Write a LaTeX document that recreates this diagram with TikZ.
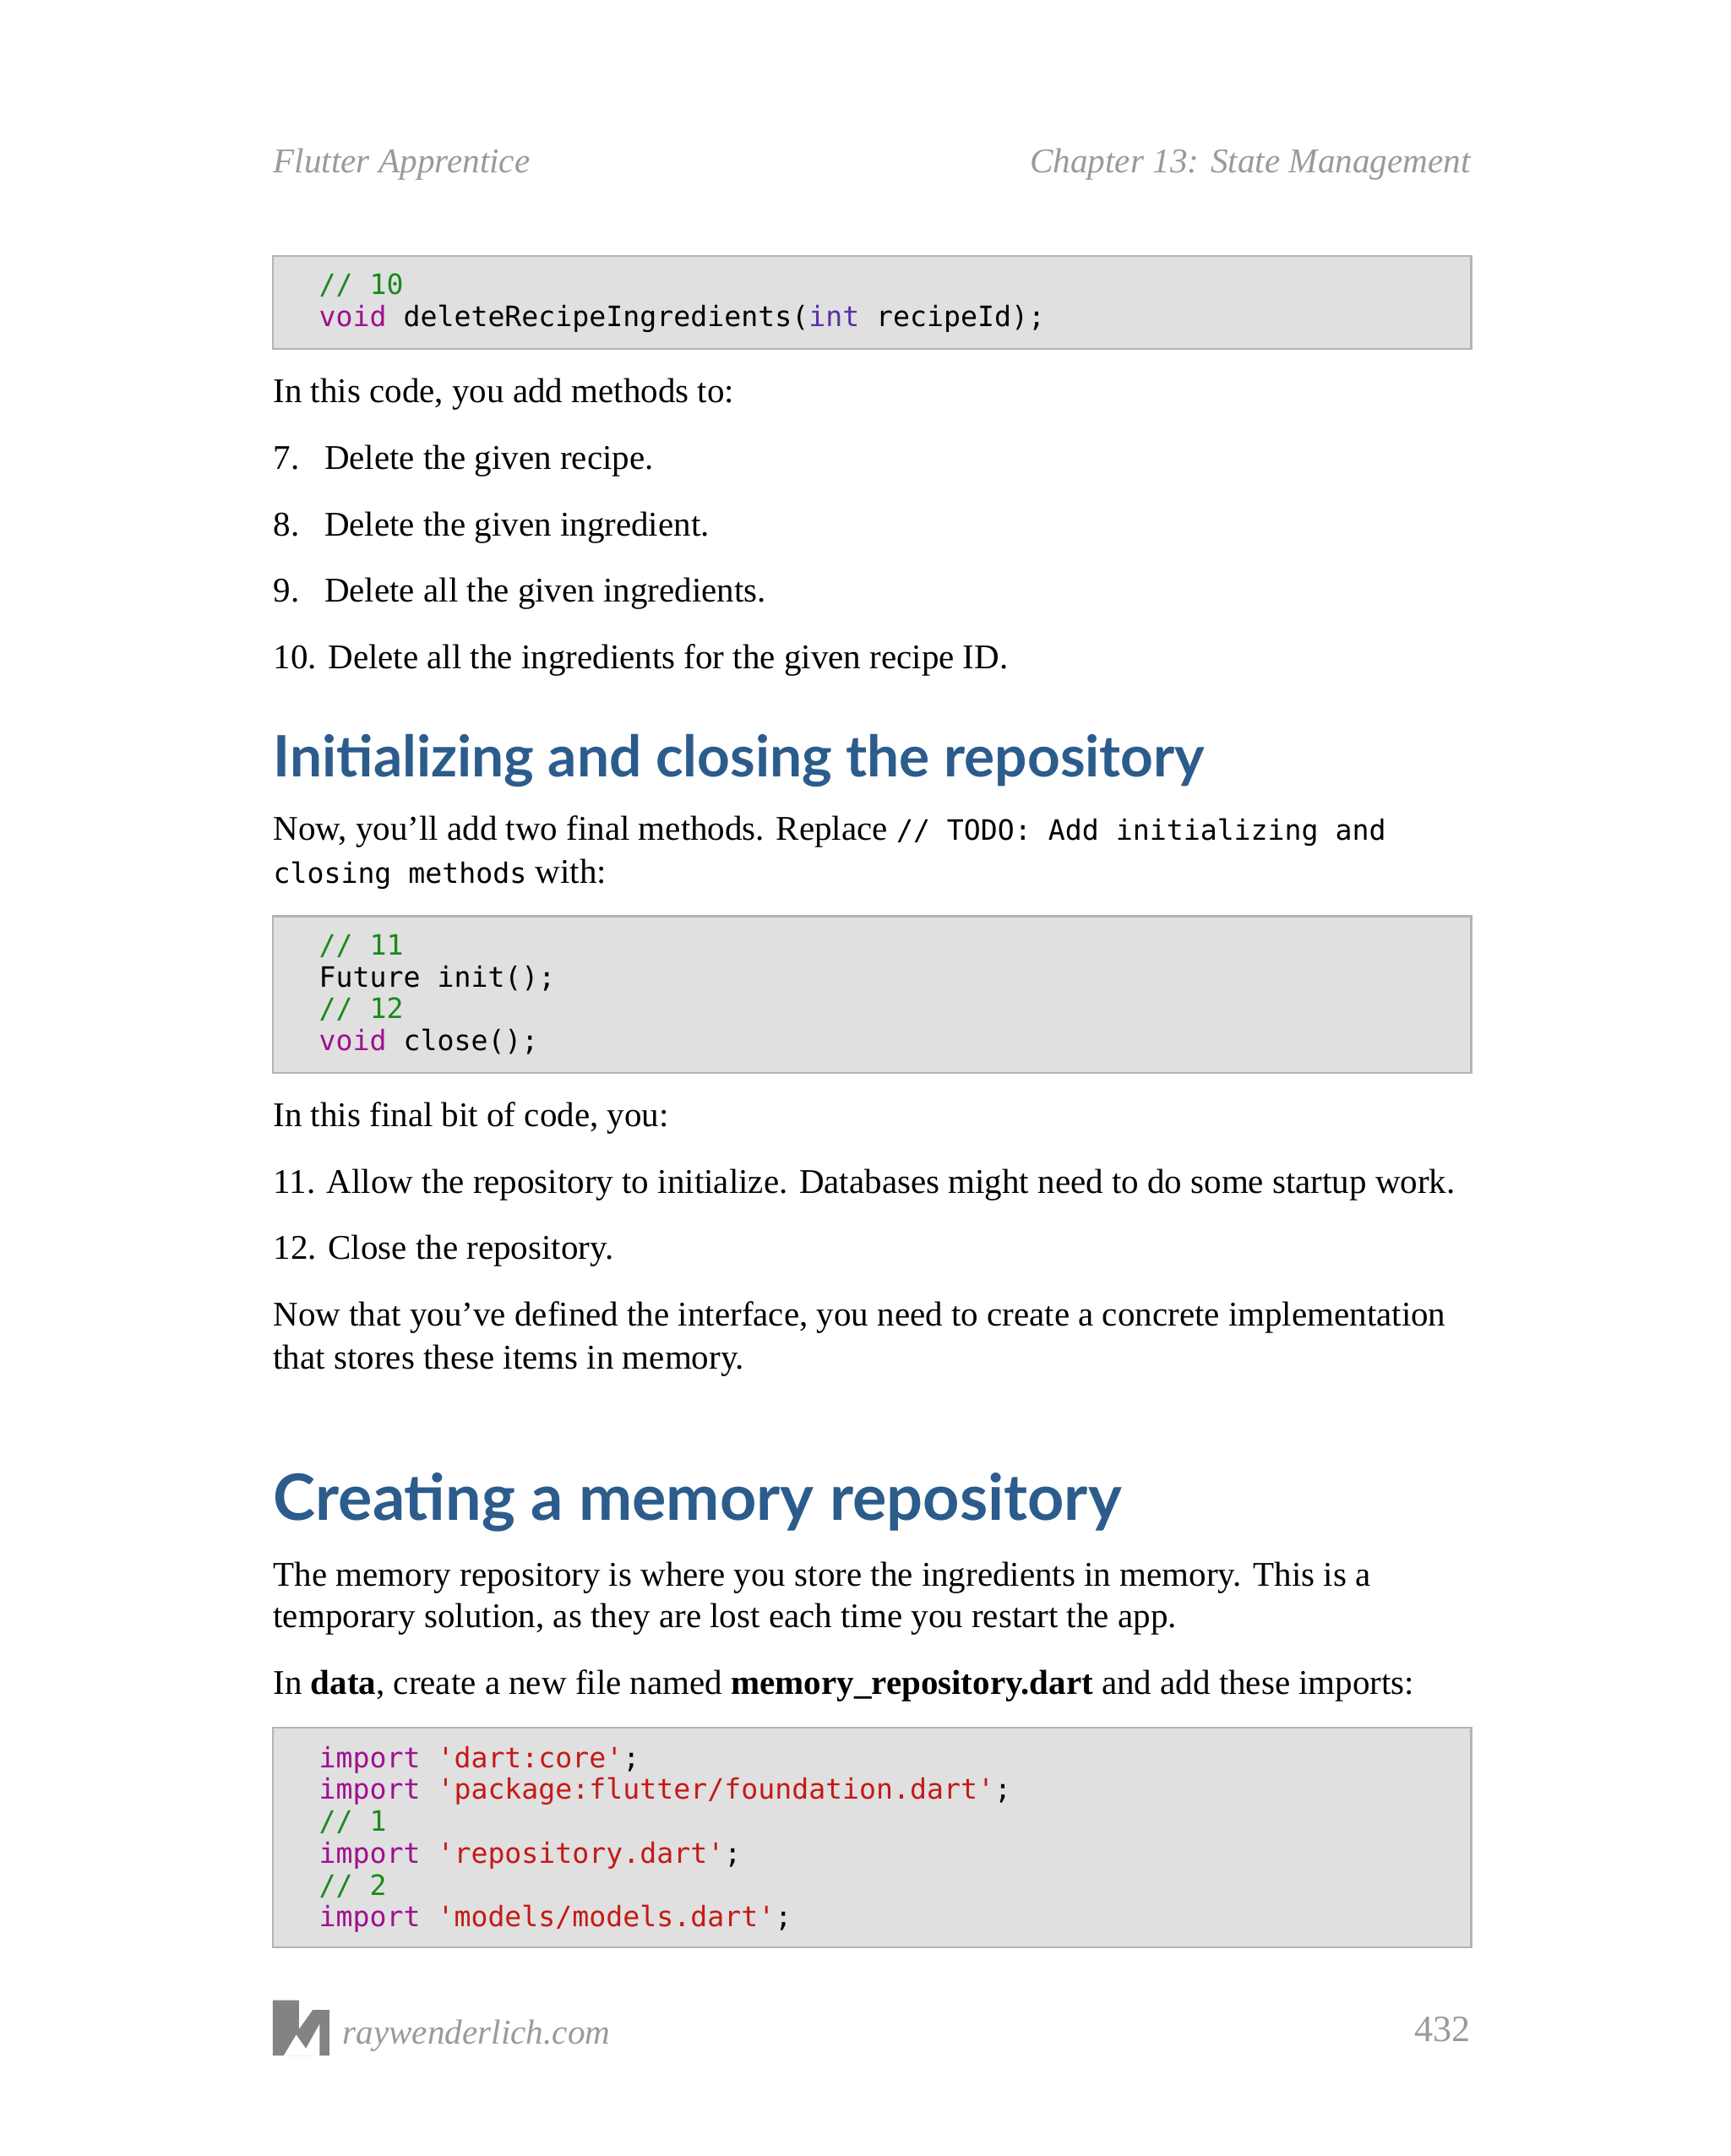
\documentclass[tikz,border=0pt]{standalone}
\usepackage{fontspec}
\setmainfont{Liberation Serif}
\newfontfamily\codefont{DejaVu Sans Mono}
\newfontfamily\headfont{Lato}
\definecolor{cbg}{HTML}{E0E0E0}
\definecolor{cbd}{HTML}{B4B4B4}
\definecolor{ccom}{HTML}{1A8A1A}
\definecolor{ckw}{HTML}{A0108F}
\definecolor{cint}{HTML}{5B2FA8}
\definecolor{cstr}{HTML}{C41A16}
\definecolor{chead}{HTML}{2B5C8C}
\definecolor{cgray}{HTML}{9A9A9A}
\newcommand{\Kw}[1]{\textcolor{ckw}{#1}}
\newcommand{\Cm}[1]{\textcolor{ccom}{#1}}
\newcommand{\St}[1]{\textcolor{cstr}{#1}}
\begin{document}
\begin{tikzpicture}[x=0.4096pt,y=-0.4096pt,
  body/.style={anchor=base west,inner sep=0pt,yshift=-7*0.4096pt,font=\fontsize{10.25pt}{13pt}\selectfont},
  code/.style={anchor=base west,inner sep=0pt,yshift=-7*0.4096pt,font=\codefont\fontsize{8.3pt}{9.4pt}\selectfont},
  codebox/.style={draw=cbd,fill=cbg,line width=0.6pt},
  head/.style={anchor=base west,inner sep=0pt,text=chead},
  gray/.style={anchor=base west,inner sep=0pt,yshift=-7*0.4096pt,text=cgray,font=\itshape\fontsize{10.3pt}{13pt}\selectfont}]
\useasboundingbox[fill=white] (0,0) rectangle (1250,1557.6);
% header
\node[gray] (h1) at (197,118) {Flutter Apprentice};
\node[gray,anchor=base east] (h2) at (1063,118) {Chapter 13: State Management};
% code 1
\draw[codebox] (197,185) rectangle (1063,252);
\node[code] (c11) at (230,206) {\Cm{// 10}};
\node[code] (c12) at (230,229) {\Kw{void} deleteRecipeIngredients(\textcolor{cint}{int} recipeId);};
\node[body] (t1) at (197,284) {In this code, you add methods to:};
\node[body] (n7) at (197,332) {7.};
\node[body] (t7) at (234,332) {Delete the given recipe.};
\node[body] (n8) at (197,380) {8.};
\node[body] (t8) at (234,380) {Delete the given ingredient.};
\node[body] (n9) at (197,428) {9.};
\node[body] (t9) at (234,428) {Delete all the given ingredients.};
\node[body] (t10) at (197,476) {10. Delete all the ingredients for the given recipe ID.};
\node[head,font=\headfont\bfseries\fontsize{16.9pt}{20pt}\selectfont] (hd1) at (197,561) {Initializing and closing the repository};
\node[body] (t11) at (197,600) {Now, you’ll add two final methods. Replace {\codefont\fontsize{8.3pt}{9pt}\selectfont // TODO: Add initializing and}};
\node[body] (t12) at (197,631) {{\codefont\fontsize{8.3pt}{9pt}\selectfont closing methods} with:};
% code 2
\draw[codebox] (197,662) rectangle (1063,775);
\node[code] (c21) at (230,683) {\Cm{// 11}};
\node[code] (c22) at (230,706) {Future init();};
\node[code] (c23) at (230,729) {\Cm{// 12}};
\node[code] (c24) at (230,752) {\Kw{void} close();};
\node[body] (t13) at (197,807) {In this final bit of code, you:};
\node[body] (t14) at (197,855) {11. Allow the repository to initialize. Databases might need to do some startup work.};
\node[body] (t15) at (197,903) {12. Close the repository.};
\node[body] (t16) at (197,951) {Now that you’ve defined the interface, you need to create a concrete implementation};
\node[body] (t17) at (197,982) {that stores these items in memory.};
\node[head,font=\headfont\bfseries\fontsize{18.9pt}{22pt}\selectfont] (hd2) at (197,1098) {Creating a memory repository};
\node[body] (t18) at (197,1139) {The memory repository is where you store the ingredients in memory. This is a};
\node[body] (t19) at (197,1169) {temporary solution, as they are lost each time you restart the app.};
\node[body] (t20) at (197,1217) {In \textbf{data}, create a new file named \textbf{memory\_repository.dart} and add these imports:};
% code 3
\draw[codebox] (197,1248) rectangle (1063,1407);
\node[code] (c31) at (230,1270) {\Kw{import} \St{'dart:core'};};
\node[code] (c32) at (230,1293) {\Kw{import} \St{'package:flutter/foundation.dart'};};
\node[code] (c33) at (230,1316) {\Cm{// 1}};
\node[code] (c34) at (230,1339) {\Kw{import} \St{'repository.dart'};};
\node[code] (c35) at (230,1362) {\Cm{// 2}};
\node[code] (c36) at (230,1385) {\Kw{import} \St{'models/models.dart'};};
% footer
\fill[cgray!85!black] (197,1445) -- (216,1445) -- (216,1466) -- (226,1452) -- (238,1452) -- (238,1485) -- (197,1485) -- cycle;
\fill[white] (205,1485) -- (214,1470) -- (221,1480) -- (231,1462) -- (231,1485) -- cycle;
\node[gray] (ft) at (247,1470) {raywenderlich.com};
\node[gray,anchor=base east,font=\fontsize{11pt}{13pt}\selectfont] (pg) at (1063,1468) {432};
\end{tikzpicture}
\end{document}
